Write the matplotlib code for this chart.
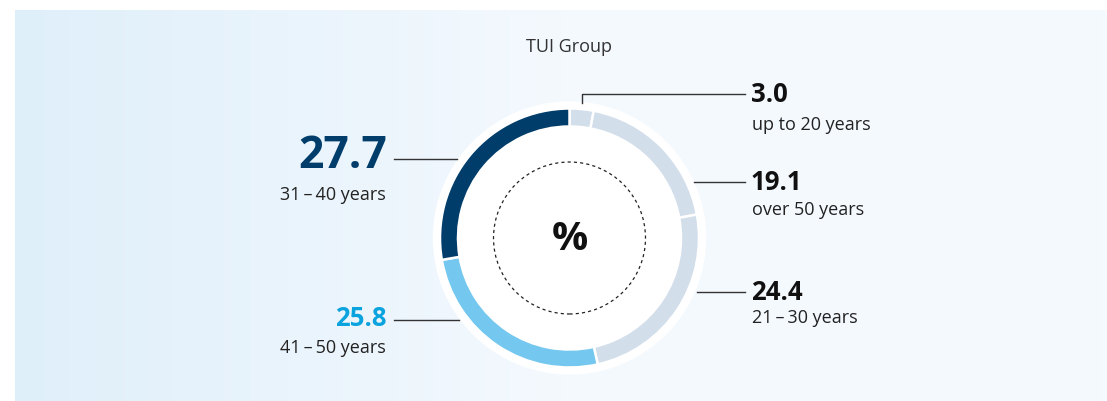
import matplotlib.pyplot as plt
import numpy as np
from matplotlib.patches import Circle
from matplotlib.colors import LinearSegmentedColormap

plt.rcParams['font.family'] = ['Open Sans', 'DejaVu Sans']

# data (clockwise from 12 o'clock)
groups = ['up to 20 years', 'over 50 years', '21\u2009–\u200930 years',
          '41\u2009–\u200950 years', '31\u2009–\u200940 years']
shares = [3.0, 19.1, 24.4, 25.8, 27.7]
colors = ['#d3deeb', '#d3deeb', '#d3deeb', '#74c7ef', '#003d6b']
num_colors = ['#111111', '#111111', '#111111', '#0aa3dd', '#003d6b']
title = 'TUI Group'

W, H = 1107, 401
fig = plt.figure(figsize=(W / 100, H / 100), dpi=100)
ax = fig.add_axes([0, 0, 1, 1])

cx, cy = 569.5, H - 238

# background panel with soft gradient
grad = np.linspace(0, 1, 256).reshape(1, -1)
cmap = LinearSegmentedColormap.from_list('bg', ['#dfeffa', '#f4f9fe', '#f5fafe'])
ax.imshow(grad, extent=[15, W, 0, H - 10], cmap=cmap, aspect='auto', zorder=0)

# white disc behind ring
ax.add_patch(Circle((cx, cy), 136, color='white', zorder=1))

wedges, _ = ax.pie(shares, colors=colors, startangle=90, counterclock=False,
                   radius=129.5, center=(cx, cy),
                   wedgeprops=dict(width=18, edgecolor='white', linewidth=1.8))
for w in wedges:
    w.set_zorder(2)

ax.add_patch(Circle((cx, cy), 76, fill=False, ls=(0, (2.5, 2.5)), lw=0.9,
                    ec='#222222', zorder=3))
ax.text(cx, cy - 2, '%', fontsize=29, fontweight='bold', ha='center', va='center',
        color='#111111', zorder=4)

ax.text(cx, H - 47, title, fontsize=13, ha='center', va='center', color='#333333')

lc = '#333333'
tsize = 13
# right labels
right = [(0, 95, 125), (1, 182, 210), (2, 292, 318)]
for i, yn, yl in right:
    ax.text(751, H - yn, f'{shares[i]:.1f}', fontsize=18.5, fontweight='bold',
            ha='left', va='center', color=num_colors[i])
    ax.text(752, H - yl, groups[i], fontsize=tsize, ha='left', va='center',
            color='#222222')
ax.plot([582, 582, 745], [H - 103, H - 94, H - 94], color=lc, lw=1)
ax.plot([694, 745], [H - 182, H - 182], color=lc, lw=1)
ax.plot([697, 745], [H - 292, H - 292], color=lc, lw=1)

# left labels
ax.text(387, H - 157, f'{shares[4]:.1f}', fontsize=32, fontweight='bold',
        ha='right', va='center', color=num_colors[4])
ax.text(386, H - 195, groups[4], fontsize=tsize, ha='right', va='center', color='#222222')
ax.text(387, H - 319, f'{shares[3]:.1f}', fontsize=18.5, fontweight='bold',
        ha='right', va='center', color=num_colors[3])
ax.text(386, H - 348, groups[3], fontsize=tsize, ha='right', va='center', color='#222222')
ax.plot([394, 457], [H - 159, H - 159], color=lc, lw=1)
ax.plot([394, 459], [H - 320, H - 320], color=lc, lw=1)

ax.set_xlim(0, W)
ax.set_ylim(0, H)
ax.set_aspect('auto')
ax.axis('off')

fig.savefig('out.png', dpi=100, facecolor='white')
